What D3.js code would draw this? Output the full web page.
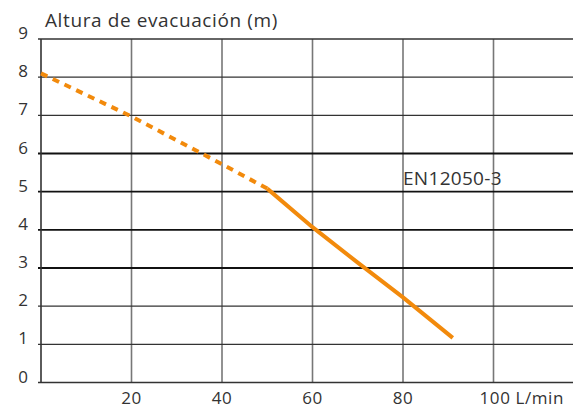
<!DOCTYPE html>
<html>
<head>
<meta charset="utf-8">
<script src="https://cdn.jsdelivr.net/npm/d3@7"></script>
<style>
  body { margin: 0; background: #fff; }
  text { font-family: "Open Sans", sans-serif; fill: #333; }
</style>
</head>
<body>
<div id="chart"></div>
<script>
// caudal (L/min) vs altura (m)
var dashedFlow = [0, 20, 40, 50];
var dashedHead = [8.1, 6.97, 5.72, 5.08];
var solidFlow = [50, 60, 70, 80, 91];
var solidHead = [5.08, 4.07, 3.14, 2.23, 1.17];
var xTicks = [20, 40, 60, 80, 100];
var yTicks = [0, 1, 2, 3, 4, 5, 6, 7, 8, 9];

var width = 573, height = 408;
var marginLeft = 41, marginTop = 39, plotW = width - marginLeft, plotH = 343.5;

var svg = d3.select("#chart").append("svg")
    .attr("width", width)
    .attr("height", height);

var x = d3.scaleLinear().domain([0, plotW / 4.525]).range([marginLeft, width]);
var y = d3.scaleLinear().domain([0, 9]).range([marginTop + plotH, marginTop]);

// vertical grid
svg.selectAll(".vgrid")
    .data(xTicks)
    .enter().append("line")
    .attr("x1", function (d) { return x(d) })
    .attr("x2", function (d) { return x(d) })
    .attr("y1", y(9))
    .attr("y2", y(0))
    .style("stroke", "#777")
    .style("stroke-width", 1.6);

// horizontal grid
svg.selectAll(".hgrid")
    .data(yTicks)
    .enter().append("line")
    .attr("x1", marginLeft - 3)
    .attr("x2", width)
    .attr("y1", function (d) { return y(d) })
    .attr("y2", function (d) { return y(d) })
    .style("stroke", function (d) { return (d >= 3 && d <= 6) ? "#111" : "#333" })
    .style("stroke-width", function (d) { return (d >= 3 && d <= 6) ? 1.8 : 1.4 });

// y axis line
svg.append("line")
    .attr("x1", marginLeft).attr("x2", marginLeft)
    .attr("y1", y(9)).attr("y2", y(0))
    .style("stroke", "#333")
    .style("stroke-width", 1.6);

svg.selectAll(".ylab")
    .data(yTicks)
    .enter().append("text")
    .attr("x", 23)
    .attr("y", function (d) { return y(d) })
    .style("text-anchor", "middle")
    .style("font-size", "17px")
    .text(function (d) { return d });

svg.selectAll(".xlab")
    .data(xTicks)
    .enter().append("text")
    .attr("x", function (d) { return d === 100 ? x(d) - 14 : x(d) })
    .attr("y", 404)
    .style("text-anchor", function (d) { return d === 100 ? "start" : "middle" })
    .style("font-size", "17px")
    .style("letter-spacing", "0.6px")
    .text(function (d) { return d === 100 ? "100 L/min" : d });

svg.append("text")
    .attr("x", 45)
    .attr("y", 27)
    .style("font-size", "19px")
    .style("letter-spacing", "0.6px")
    .text("Altura de evacuación (m)");

svg.append("text")
    .attr("x", 403)
    .attr("y", 185)
    .style("font-size", "19px")
    .style("letter-spacing", "0.3px")
    .text("EN12050-3");

var line = d3.line()
    .x(function (d) { return x(d[0]) })
    .y(function (d) { return y(d[1]) });

svg.append("path")
    .datum(d3.zip(dashedFlow, dashedHead))
    .attr("d", line)
    .style("fill", "none")
    .style("stroke", "#f28a0c")
    .style("stroke-width", 4)
    .style("stroke-dasharray", "7,6");

svg.append("path")
    .datum(d3.zip(solidFlow, solidHead))
    .attr("d", line)
    .style("fill", "none")
    .style("stroke", "#f28a0c")
    .style("stroke-width", 4);
</script>
</body>
</html>
